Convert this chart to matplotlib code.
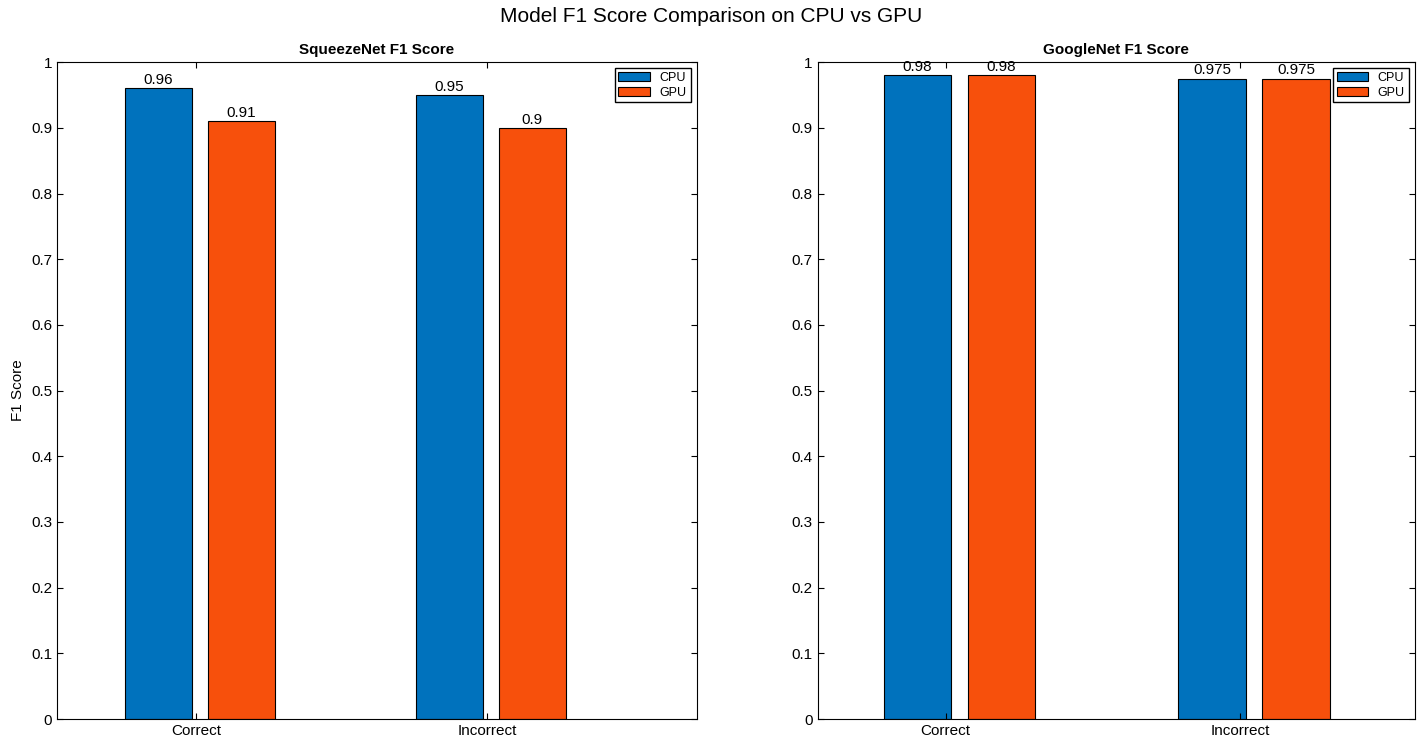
import matplotlib
matplotlib.use("Agg")
import matplotlib.pyplot as plt
import numpy as np

plt.rcParams['font.family'] = ['Liberation Sans', 'DejaVu Sans']

categories = ['Correct', 'Incorrect']
squeeze_cpu = [0.96, 0.95]
squeeze_gpu = [0.91, 0.90]
google_cpu = [0.98, 0.975]
google_gpu = [0.98, 0.975]

blue = '#0072BD'
orange = '#F7500C'

fig = plt.figure(figsize=(14.22, 7.49), dpi=100)
ax1 = fig.add_axes([0.040, 0.040, 0.450, 0.877])
ax2 = fig.add_axes([0.575, 0.040, 0.420, 0.877])

def draw(ax, cpu, gpu, title, offs, xlim, fmt_labels):
    x = np.arange(1, len(categories) + 1)
    b1 = ax.bar(x + offs[0], cpu, 0.23, color=blue, edgecolor='black', linewidth=0.8, label='CPU')
    b2 = ax.bar(x + offs[1], gpu, 0.23, color=orange, edgecolor='black', linewidth=0.8, label='GPU')
    for bars, labs in ((b1, fmt_labels[0]), (b2, fmt_labels[1])):
        for b, t in zip(bars, labs):
            ax.text(b.get_x() + b.get_width() / 2, b.get_height() + 0.002, t,
                    ha='center', va='bottom', fontsize=11)
    ax.set_xticks(x)
    ax.set_xticklabels(categories, fontsize=11)
    ax.set_xlim(*xlim)
    ax.set_ylim(0, 1)
    ax.set_yticks(np.arange(0, 1.01, 0.1))
    ax.set_yticklabels(['0', '0.1', '0.2', '0.3', '0.4', '0.5', '0.6', '0.7', '0.8', '0.9', '1'], fontsize=11)
    ax.tick_params(direction='in', top=True, right=True, length=4)
    ax.set_title(title, fontsize=11, fontweight='bold', pad=6)
    ax.legend(loc='upper right', fontsize=9, fancybox=False, edgecolor='black',
              handlelength=2.5, borderpad=0.3, labelspacing=0.2, framealpha=1)
    for s in ax.spines.values():
        s.set_linewidth(0.8)

draw(ax1, squeeze_cpu, squeeze_gpu, 'SqueezeNet F1 Score', (-0.13, 0.155), (0.522, 2.72),
     (['0.96', '0.95'], ['0.91', '0.9']))
draw(ax2, google_cpu, google_gpu, 'GoogleNet F1 Score', (-0.095, 0.19), (0.566, 2.593),
     (['0.98', '0.975'], ['0.98', '0.975']))
ax1.set_ylabel('F1 Score', fontsize=11)

fig.suptitle('Model F1 Score Comparison on CPU vs GPU', fontsize=15, y=0.99)
fig.savefig('out.png', dpi=100)
